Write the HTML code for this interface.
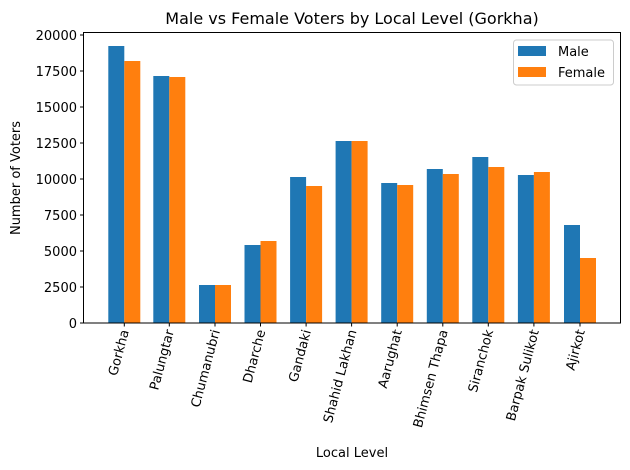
<!DOCTYPE html>
<html><head><style>body{margin:0;background:#fff}svg{display:block;font-family:"DejaVu Sans","Liberation Sans",sans-serif}</style></head><body>
<svg width="630" height="470" viewBox="0 0 630 470" xmlns="http://www.w3.org/2000/svg">
<text x="352" y="24" font-size="16" text-anchor="middle">Male vs Female Voters by Local Level (Gorkha)</text>
<g fill="#1f77b4">
<rect x="108.3" y="46" width="16" height="277"/>
<rect x="153.3" y="76" width="16" height="247"/>
<rect x="199" y="285" width="16" height="38"/>
<rect x="244.5" y="245" width="16" height="78"/>
<rect x="290.1" y="177" width="16" height="146"/>
<rect x="335.6" y="141" width="16" height="182"/>
<rect x="381.2" y="183" width="16" height="140"/>
<rect x="426.8" y="169" width="16" height="154"/>
<rect x="472.3" y="157" width="16" height="166"/>
<rect x="517.9" y="175" width="16" height="148"/>
<rect x="564" y="225" width="16" height="98"/>
</g>
<g fill="#ff7f0e">
<rect x="124.3" y="61" width="16" height="262"/>
<rect x="169.3" y="77" width="16" height="246"/>
<rect x="215" y="285" width="16" height="38"/>
<rect x="260.5" y="241" width="16" height="82"/>
<rect x="306.1" y="186" width="16" height="137"/>
<rect x="351.6" y="141" width="16" height="182"/>
<rect x="397.2" y="185" width="16" height="138"/>
<rect x="442.8" y="174" width="16" height="149"/>
<rect x="488.3" y="167" width="16" height="156"/>
<rect x="533.9" y="172" width="16" height="151"/>
<rect x="580" y="258" width="16" height="65"/>
</g>
<rect x="83.5" y="32.5" width="537" height="290.5" fill="none" stroke="#000" stroke-width="1"/>
<g stroke="#000" stroke-width="1">
<line x1="80" x2="83.5" y1="323" y2="323"/><line x1="80" x2="83.5" y1="287" y2="287"/><line x1="80" x2="83.5" y1="251" y2="251"/><line x1="80" x2="83.5" y1="215" y2="215"/><line x1="80" x2="83.5" y1="179" y2="179"/><line x1="80" x2="83.5" y1="143" y2="143"/><line x1="80" x2="83.5" y1="107" y2="107"/><line x1="80" x2="83.5" y1="71" y2="71"/><line x1="80" x2="83.5" y1="35" y2="35"/>
</g>
<g font-size="13" text-anchor="end">
<text x="77" y="328">0</text><text x="77" y="292">2500</text><text x="77" y="256">5000</text><text x="77" y="220">7500</text><text x="77" y="184">10000</text><text x="77" y="148">12500</text><text x="77" y="112">15000</text><text x="77" y="76">17500</text><text x="77" y="40">20000</text>
</g>
<g stroke="#000" stroke-width="1">
<line x1="124.3" x2="124.3" y1="323" y2="326.5"/><line x1="169.3" x2="169.3" y1="323" y2="326.5"/><line x1="215" x2="215" y1="323" y2="326.5"/><line x1="260.5" x2="260.5" y1="323" y2="326.5"/><line x1="306.1" x2="306.1" y1="323" y2="326.5"/><line x1="351.6" x2="351.6" y1="323" y2="326.5"/><line x1="397.2" x2="397.2" y1="323" y2="326.5"/><line x1="442.8" x2="442.8" y1="323" y2="326.5"/><line x1="488.3" x2="488.3" y1="323" y2="326.5"/><line x1="533.9" x2="533.9" y1="323" y2="326.5"/><line x1="580" x2="580" y1="323" y2="326.5"/>
</g>
<g font-size="13" text-anchor="end">
<text transform="translate(129,331) rotate(-75)">Gorkha</text>
<text transform="translate(174,331) rotate(-75)">Palungtar</text>
<text transform="translate(220,331) rotate(-75)">Chumanubri</text>
<text transform="translate(265.5,331) rotate(-75)">Dharche</text>
<text transform="translate(311,331) rotate(-75)">Gandaki</text>
<text transform="translate(356.6,331) rotate(-75)">Shahid Lakhan</text>
<text transform="translate(402,331) rotate(-75)">Aarughat</text>
<text transform="translate(447.8,331) rotate(-75)">Bhimsen Thapa</text>
<text transform="translate(493.3,331) rotate(-75)">Siranchok</text>
<text transform="translate(539,331) rotate(-75)">Barpak Sulikot</text>
<text transform="translate(585,331) rotate(-75)">Ajirkot</text>
</g>
<text x="352" y="457" font-size="13" text-anchor="middle">Local Level</text>
<text transform="translate(20,178) rotate(-90)" font-size="13" text-anchor="middle">Number of Voters</text>
<rect x="513.5" y="40" width="100" height="45" rx="3" fill="#fff" stroke="#ccc"/>
<rect x="518" y="46" width="28" height="10" fill="#1f77b4"/>
<rect x="518" y="67" width="28" height="10" fill="#ff7f0e"/>
<text x="558" y="56" font-size="13">Male</text>
<text x="558" y="77" font-size="13">Female</text>
</svg>
</body></html>
